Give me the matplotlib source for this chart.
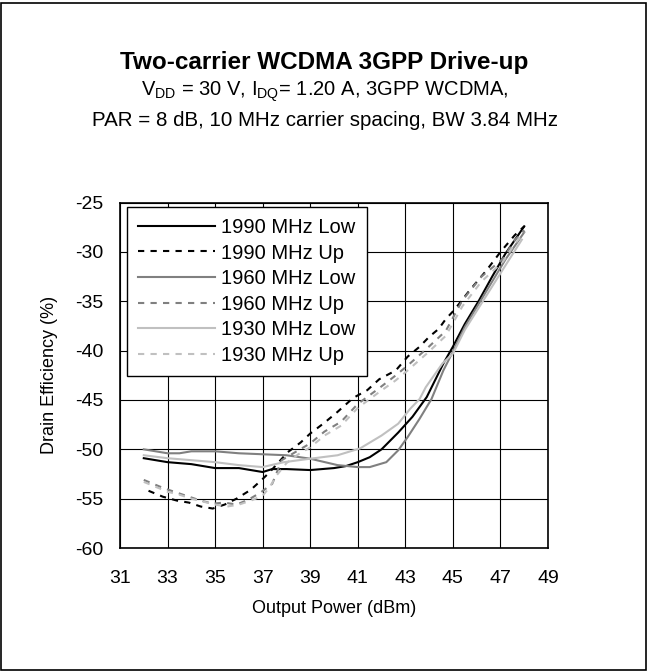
import matplotlib
matplotlib.use('Agg')
import matplotlib.pyplot as plt
from matplotlib.patches import Rectangle

plt.rcParams['font.family'] = ['Liberation Sans', 'DejaVu Sans']
plt.rcParams['mathtext.fontset'] = 'custom'
plt.rcParams['mathtext.rm'] = 'Liberation Sans'
plt.rcParams['axes.unicode_minus'] = False

# 1990 MHz
x_1990_low = [32, 33, 34, 35, 36, 37, 37.4, 38, 39, 40, 40.5, 41, 41.5, 42, 42.7, 43.3,
              43.9, 44.6, 45, 45.5, 46.1, 46.65, 47.2, 48]
y_1990_low = [-50.9, -51.3, -51.5, -51.9, -51.9, -52.3, -52.0, -52.0, -52.1, -51.9, -51.7,
              -51.3, -50.8, -50.0, -48.3, -46.7, -44.7, -41.3, -39.6, -37.3, -34.9, -32.5,
              -30.2, -27.4]
x_1990_up = [32.2, 32.8, 33.4, 33.9, 34.4, 34.9, 35.4, 35.9, 36.5, 37.0, 37.3, 37.6, 38.05,
             38.6, 39, 39.6, 40.15, 40.8, 41.4, 41.9, 42.6, 43.1, 43.6, 44, 44.4, 44.7, 45.05,
             45.7, 46.4, 47, 47.6, 48]
y_1990_up = [-54.2, -54.8, -55.2, -55.4, -55.8, -56.0, -55.6, -55.0, -54.1, -53.0, -52.3,
             -51.5, -50.3, -49.3, -48.4, -47.3, -46.2, -44.8, -44.0, -42.9, -42.0, -40.6,
             -39.6, -38.6, -37.8, -36.8, -35.9, -33.9, -31.9, -30.0, -28.3, -27.4]

# 1960 MHz
x_1960_low = [32, 33, 33.5, 34, 35, 36, 37, 38, 39, 40.15, 41, 41.5, 42.2, 42.7, 43.1, 43.6,
              44.1, 44.6, 45, 45.5, 46.1, 46.65, 47.2, 48]
y_1960_low = [-50.0, -50.4, -50.4, -50.2, -50.2, -50.4, -50.5, -50.6, -50.95, -51.6, -51.8,
              -51.8, -51.3, -50.1, -48.75, -46.9, -44.9, -42.0, -40.1, -37.6, -35.2, -33.0,
              -30.8, -28.0]
x_1960_up = [32, 32.3, 32.8, 33.4, 33.9, 34.4, 34.9, 35.4, 35.9, 36.4, 36.9, 37.4, 37.8,
             38.5, 39, 39.6, 40.3, 41, 41.9, 42.6, 43.1, 43.9, 44.7, 45.4, 46.2, 47.1, 47.6, 48]
y_1960_up = [-53.1, -53.4, -53.9, -54.4, -54.8, -55.2, -55.5, -55.4, -55.6, -55.1, -54.4,
             -53.5, -51.1, -50.1, -49.4, -48.2, -47.2, -45.4, -43.8, -42.5, -41.5, -39.8,
             -38.0, -34.9, -32.5, -30.7, -28.8, -27.8]

# 1930 MHz
x_1930_low = [32, 33, 34, 35, 36, 37, 37.35, 37.9, 39, 40.15, 41.1, 42.0, 42.7, 43.2, 43.6,
              43.86, 44.56, 45, 45.5, 46.1, 46.65, 47.2, 47.9]
y_1930_low = [-50.6, -50.9, -51.1, -51.3, -51.6, -51.8, -51.6, -51.3, -50.95, -50.6, -49.9,
              -48.6, -47.4, -45.9, -44.9, -43.7, -41.3, -40.3, -37.9, -35.6, -33.5, -31.4,
              -28.75]
x_1930_up = [32, 32.5, 33, 33.5, 34, 34.5, 35, 35.5, 36, 36.5, 37, 37.3, 37.6, 38, 38.5, 39,
             39.6, 40.3, 41, 41.9, 42.6, 43.1, 43.9, 44.7, 45.4, 46.2, 47.1, 47.6, 48]
y_1930_up = [-53.3, -53.8, -54.3, -54.6, -55.0, -55.3, -55.6, -55.8, -55.6, -55.2, -54.7,
             -53.8, -52.6, -51.4, -50.5, -49.8, -48.6, -47.6, -45.8, -44.2, -43.0, -42.0,
             -40.3, -38.5, -35.5, -33.0, -31.0, -29.2, -28.0]

x_ticks = [31, 33, 35, 37, 39, 41, 43, 45, 47, 49]
y_ticks = [-60, -55, -50, -45, -40, -35, -30, -25]

fig = plt.figure(figsize=(6.49, 6.71), dpi=100)
ax = fig.add_axes([0.1849, 0.1833, 0.6595, 0.5147])

dash = (0, (3, 3))
ax.plot(x_1990_low, y_1990_low, color='black', lw=1.5, label='1990 MHz Low')
ax.plot(x_1990_up, y_1990_up, color='black', lw=1.5, ls=dash, label='1990 MHz Up')
ax.plot(x_1960_low, y_1960_low, color='#808080', lw=1.5, label='1960 MHz Low')
ax.plot(x_1960_up, y_1960_up, color='#808080', lw=1.5, ls=dash, label='1960 MHz Up')
ax.plot(x_1930_low, y_1930_low, color='#c0c0c0', lw=1.5, label='1930 MHz Low')
ax.plot(x_1930_up, y_1930_up, color='#c0c0c0', lw=1.5, ls=dash, label='1930 MHz Up')

ax.set_xlim(31, 49)
ax.set_ylim(-60, -25)
ax.set_xticks(x_ticks)
ax.set_yticks(y_ticks)
ax.grid(True, color='black', lw=0.8)
ax.set_axisbelow(True)
ax.tick_params(length=0, labelsize=14, pad=16)
ax.tick_params(axis='y', pad=12)
for s in ax.spines.values():
    s.set_linewidth(1.2)

ax.set_xlabel('Output Power (dBm)', fontsize=13, labelpad=9)
ax.set_ylabel('Drain Efficiency (%)', fontsize=13, labelpad=12)

leg = ax.legend(loc='upper left', bbox_to_anchor=(0.0157, 0.988), borderaxespad=0,
                fancybox=False, framealpha=1, edgecolor='black', fontsize=14.5,
                handlelength=3.85, labelspacing=0.33, borderpad=0.55, handletextpad=0.3)
leg.get_frame().set_linewidth(1.0)

fig.text(0.5, 1 - 62 / 671, 'Two-carrier WCDMA 3GPP Drive-up', ha='center', va='center',
         fontsize=17.5, fontweight='bold')
fig.text(0.5, 1 - 92 / 671, r'V$_{\mathrm{DD}}$ = 30 V, I$_{\mathrm{DQ}}$= 1.20 A, 3GPP WCDMA,',
         ha='center', va='center', fontsize=14.5)
fig.text(0.5, 1 - 121 / 671, 'PAR = 8 dB, 10 MHz carrier spacing, BW 3.84 MHz',
         ha='center', va='center', fontsize=14.8)

fig.patches.append(Rectangle((0.002, 0.002), 0.994, 0.994, transform=fig.transFigure,
                             fill=False, edgecolor='black', lw=1.2))

fig.savefig('out.png', dpi=100)
